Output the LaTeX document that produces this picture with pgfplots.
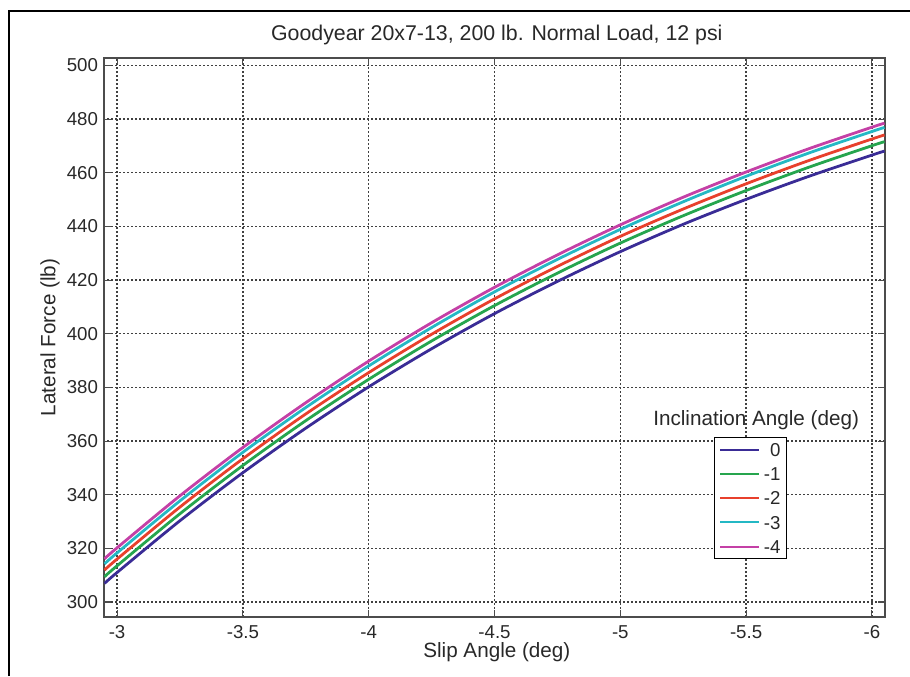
\documentclass[border=0pt]{standalone}
\usepackage{fontspec}
\setmainfont{Liberation Sans}
\usepackage{pgfplots}
\pgfplotsset{compat=1.18}
\definecolor{cBlue}{RGB}{58,44,150}
\definecolor{cGreen}{RGB}{38,165,78}
\definecolor{cRed}{RGB}{232,64,44}
\definecolor{cCyan}{RGB}{36,184,196}
\definecolor{cMag}{RGB}{196,64,166}
\definecolor{txt}{RGB}{40,40,40}
\begin{document}
\begin{tikzpicture}
\begin{axis}[
  at={(0pt,0pt)}, anchor=south west,
  scale only axis, width=585.75pt, height=419.25pt,
  x dir=reverse,
  xmin=-6.052, xmax=-2.948, ymin=294.4, ymax=502.8,
  xtick={-6,-5.5,-5,-4.5,-4,-3.5,-3},
  xticklabels={-6,-5.5,-5,-4.5,-4,-3.5,-3},
  ytick={300,320,...,500},
  /pgf/number format/assume math mode=true,
  tick align=inside, tick pos=both, major tick length=5pt,
  tick style={black!70, line width=0.8pt},
  axis line style={black!70, line width=1.1pt},
  grid=major,
  major grid style={black!75, line width=1pt, dash pattern=on 1.4pt off 1.6pt},
  ticklabel style={font=\fontsize{14}{16}\selectfont, text=txt},
  yticklabel style={xshift=-1pt},
  xticklabel style={yshift=-3pt},
  every axis title shift=0pt,
  title={Goodyear 20x7-13, 200 lb. Normal Load, 12 psi},
  title style={at={(axis description cs:0.503,1.041)}, anchor=center, font=\fontsize{16}{18}\selectfont, text=txt},
  xlabel={Slip Angle (deg)},
  xlabel style={at={(axis description cs:0.503,-0.0626)}, anchor=center, font=\fontsize{15.5}{18}\selectfont, text=txt},
  ylabel={Lateral Force (lb)},
  ylabel style={at={(axis description cs:-0.0691,0.5)}, anchor=center, font=\fontsize{15.5}{18}\selectfont, text=txt},
  legend cell align=right,
  legend image code/.code={\draw[#1, line width=1.5pt] (0pt,0pt) -- (29pt,0pt);},
  legend style={at={(rel axis cs:0.781,0.322)}, anchor=north west,
    draw=black, line width=0.9pt, fill=white,
    inner xsep=3.5pt, inner ysep=3pt, row sep=6.2pt,
    font=\fontsize{14}{16}\selectfont, text=txt,
    nodes={inner sep=1pt, text height=10pt, text depth=0pt},
    /tikz/every odd column/.append style={column sep=2pt}},
  every axis plot/.append style={line width=2.1pt, smooth},
]
\addplot[cBlue] coordinates {(-2.95,306.9)(-3.00,311.0)(-3.25,330.3)(-3.50,348.2)(-3.75,364.8)(-4.00,380.2)(-4.25,394.4)(-4.50,407.5)(-4.75,419.5)(-5.00,430.6)(-5.25,440.8)(-5.50,450.1)(-5.75,458.7)(-6.00,466.6)(-6.05,468.1)};
\addlegendentry{0}
\addplot[cGreen] coordinates {(-2.95,309.4)(-3.00,313.5)(-3.25,332.9)(-3.50,350.9)(-3.75,367.6)(-4.00,383.0)(-4.25,397.3)(-4.50,410.5)(-4.75,422.6)(-5.00,433.8)(-5.25,444.0)(-5.50,453.4)(-5.75,462.1)(-6.00,470.1)(-6.05,471.6)};
\addlegendentry{-1}
\addplot[cRed] coordinates {(-2.95,311.9)(-3.00,316.0)(-3.25,335.4)(-3.50,353.4)(-3.75,370.1)(-4.00,385.5)(-4.25,399.8)(-4.50,413.0)(-4.75,425.1)(-5.00,436.3)(-5.25,446.5)(-5.50,455.9)(-5.75,464.6)(-6.00,472.6)(-6.05,474.1)};
\addlegendentry{-2}
\addplot[cCyan] coordinates {(-2.95,314.2)(-3.00,318.3)(-3.25,337.7)(-3.50,355.8)(-3.75,372.5)(-4.00,388.0)(-4.25,402.3)(-4.50,415.6)(-4.75,427.7)(-5.00,438.9)(-5.25,449.2)(-5.50,458.7)(-5.75,467.4)(-6.00,475.4)(-6.05,476.9)};
\addlegendentry{-3}
\addplot[cMag] coordinates {(-2.95,316.1)(-3.00,320.2)(-3.25,339.6)(-3.50,357.6)(-3.75,374.3)(-4.00,389.8)(-4.25,404.1)(-4.50,417.3)(-4.75,429.4)(-5.00,440.6)(-5.25,450.9)(-5.50,460.3)(-5.75,469.0)(-6.00,477.0)(-6.05,478.5)};
\addlegendentry{-4}
\node[font=\fontsize{15.5}{18}\selectfont, text=txt, anchor=center] at (rel axis cs:0.835,0.352) {Inclination Angle (deg)};
\end{axis}
\draw[black, line width=1.1pt] (-71.25pt,-44.25pt) -- (-71.25pt,454.5pt) -- (604.5pt,454.5pt);
\pgfresetboundingbox
\path[use as bounding box] (-78pt,-44.25pt) rectangle (604.5pt,462.75pt);
\end{tikzpicture}
\end{document}
